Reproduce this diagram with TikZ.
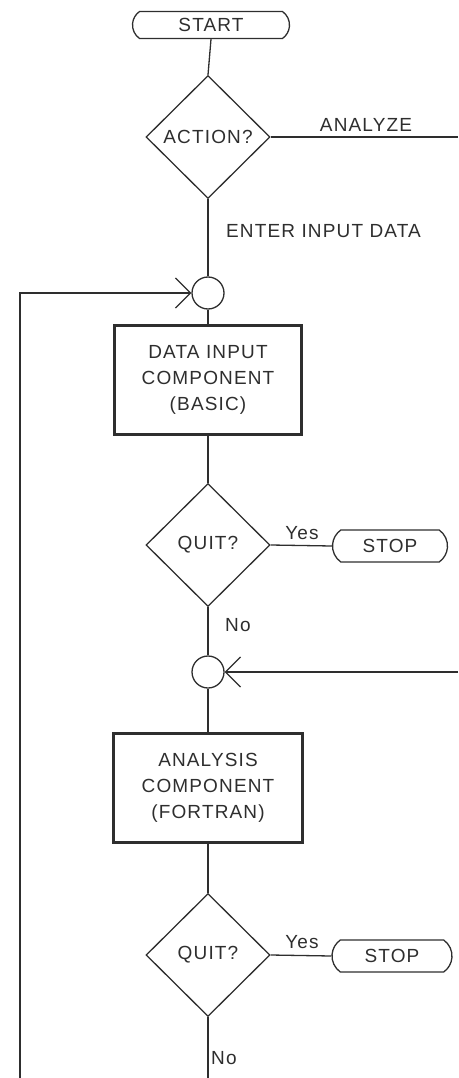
\documentclass[tikz,border=0pt]{standalone}
\usepackage{fontspec}
\setmainfont{Liberation Sans}[LetterSpace=6.0]
\usetikzlibrary{shapes.geometric,shapes.misc,arrows.meta}
\definecolor{ink}{HTML}{2E2E2E}
\begin{document}
\begin{tikzpicture}[x=1pt,y=-1pt,
  every node/.style={text=ink,font=\fontsize{19}{26}\selectfont},
  line/.style={draw=ink,line width=1.3pt},
  arr/.style={line,-{Straight Barb[length=15pt,width=30pt,line width=1.3pt]}},
  capsule/.style={rounded rectangle,rounded rectangle arc length=110,draw=ink,line width=1.3pt,inner sep=0pt},
  decide/.style={diamond,draw=ink,line width=1.3pt,inner sep=0pt,minimum width=124pt,minimum height=123pt},
  joint/.style={circle,draw=ink,line width=1.3pt,minimum size=32pt,inner sep=0pt},
  process/.style={rectangle,draw=ink,line width=3pt,align=center,minimum width=187pt,minimum height=109pt,inner sep=0pt},
  tag/.style={inner sep=1pt}]
\useasboundingbox (0,0) rectangle (458,1078);

% top: start and first decision
\node[capsule,minimum width=157pt,minimum height=27pt] (start) at (211,25) {START};
\node[decide] (action) at (208,137) {ACTION?};
\coordinate (anaEnd) at (458,137);
\node[tag,anchor=south] (anaLbl) at (366,133) {ANALYZE};
\node[tag,anchor=west] (enterLbl) at (225,231) {ENTER INPUT DATA};

% data input section
\node[joint] (c1) at (208,293) {};
\node[process] (box1) at (208,380) {DATA INPUT\\COMPONENT\\(BASIC)};
\node[decide] (q1) at (208,545) {QUIT?};
\node[capsule,minimum width=115pt,minimum height=32pt] (stop1) at (390,546) {STOP};
\node[tag,anchor=south] (yes1) at (302,541) {Yes};
\node[tag,anchor=west] (no1) at (224,625) {No};

% analysis section
\node[joint] (c2) at (208,672) {};
\coordinate (retIn) at (458,672);
\node[process,minimum width=189pt] (box2) at (208,788) {ANALYSIS\\COMPONENT\\(FORTRAN)};
\node[decide] (q2) at (208,955) {QUIT?};
\node[capsule,minimum width=120pt,minimum height=32pt] (stop2) at (392,956) {STOP};
\node[tag,anchor=south] (yes2) at (302,950) {Yes};
\node[tag,anchor=west] (no2) at (210,1058) {No};
\coordinate (bottom) at (208,1078);
\coordinate (loopStart) at (20,1078);

% connectors
\draw[line] (start.south) -- (action.north);
\draw[line] (action.east) -- (anaEnd);
\draw[line] (action.south) -- (c1.north);
\draw[arr] (loopStart) |- (c1.west);
\draw[line] (c1.south) -- (box1.north);
\draw[line] (box1.south) -- (q1.north);
\draw[line] (q1.east) -- (stop1.west);
\draw[line] (q1.south) -- (c2.north);
\draw[arr] (retIn) -- (c2.east);
\draw[line] (c2.south) -- (box2.north);
\draw[line] (box2.south) -- (q2.north);
\draw[line] (q2.east) -- (stop2.west);
\draw[line] (q2.south) -- (bottom);
\end{tikzpicture}
\end{document}
